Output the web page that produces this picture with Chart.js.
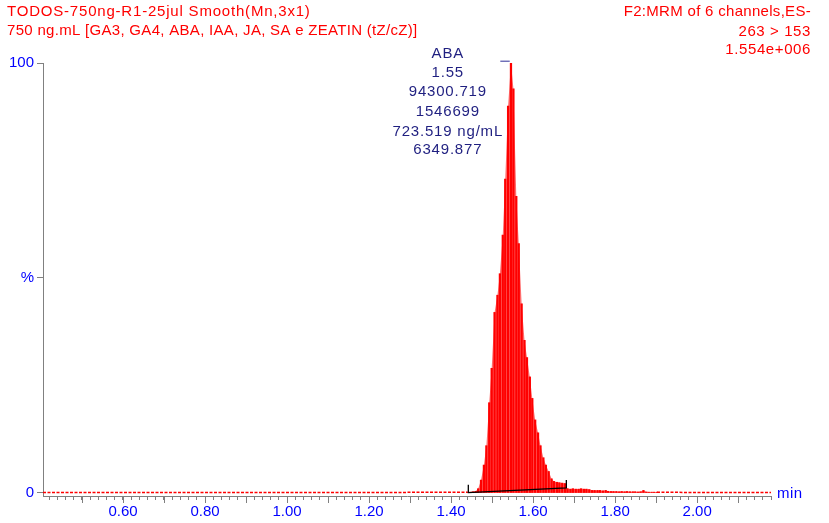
<!DOCTYPE html>
<html>
<head>
<meta charset="utf-8">
<script src="https://cdn.jsdelivr.net/npm/chart.js@4.4.1/dist/chart.umd.min.js"></script>
<style>
  body { margin: 0; background: #fff; }
  #wrap { width: 829px; height: 523px; position: relative; }
</style>
</head>
<body>
<div id="wrap"><canvas id="chromChart"></canvas></div>
<script>
// header / annotation text
const titleLines = ["TODOS-750ng-R1-25jul Smooth(Mn,3x1)", "750 ng.mL [GA3, GA4, ABA, IAA, JA, SA e ZEATIN (tZ/cZ)]"];
const channelLines = ["F2:MRM of 6 channels,ES-", "263 > 153", "1.554e+006"];
const peakLabel = ["ABA", "1.55", "94300.719", "1546699", "723.519 ng/mL", "6349.877"];
const peakLabelTime = 1.392;

const xTickLabels = ["0.60", "0.80", "1.00", "1.20", "1.40", "1.60", "1.80", "2.00"];
const yTickLabels = ["0", "%", "100"];
const yTickValues = [0, 50, 100];

// scans around the ABA peak (min, % of 1.554e+006)
const scanTimes = [
  1.440, 1.447, 1.453, 1.460, 1.466, 1.473, 1.480, 1.486, 1.493, 1.499,
  1.506, 1.513, 1.519, 1.526, 1.532, 1.539, 1.546, 1.552, 1.559, 1.565,
  1.572, 1.579, 1.585, 1.592, 1.598, 1.605, 1.612, 1.618, 1.625, 1.631,
  1.638, 1.645, 1.651, 1.658, 1.664, 1.671, 1.678, 1.684, 1.691, 1.697,
  1.704, 1.711, 1.717, 1.724, 1.730, 1.737, 1.744, 1.750, 1.757, 1.763,
  1.770, 1.777, 1.783, 1.790, 1.796, 1.803, 1.810, 1.816, 1.823, 1.829,
  1.836, 1.843, 1.849, 1.856, 1.862, 1.869, 1.876, 1.882, 1.889, 1.895, 1.902
];
const intensity = [
  0.2, 0.2, 0.3, 0.4, 1.0, 3.0, 6.5, 11, 21, 29,
  42, 46, 51, 60, 73, 90, 100, 94, 69, 58,
  44, 35.5, 31.5, 27, 22, 17, 14, 11, 8.2, 6.5,
  5.0, 3.3, 2.7, 2.5, 2.4, 2.3, 2.2, 1.0, 0.9, 1.0,
  0.9, 0.9, 1.0, 0.9, 0.9, 0.8, 0.6, 0.6, 0.6, 0.6,
  0.5, 0.6, 0.4, 0.35, 0.35, 0.35, 0.3, 0.35, 0.3, 0.35,
  0.3, 0.3, 0.3, 0.25, 0.3, 0.6, 0.25, 0.2, 0.2, 0.2, 0.2
];

// baseline noise outside the peak window
const baseTimesLeft = [0.405, 0.45, 0.50, 0.55, 0.60, 0.65, 0.70, 0.75, 0.80, 0.85, 0.90,
  0.95, 1.00, 1.05, 1.10, 1.15, 1.20, 1.25, 1.30, 1.35, 1.40, 1.44];
const baseLeft = [0.1, 0.1, 0.1, 0.1, 0.1, 0.1, 0.1, 0.1, 0.1, 0.1, 0.1,
  0.1, 0.1, 0.1, 0.1, 0.1, 0.1, 0.1, 0.15, 0.15, 0.15, 0.2];
const baseTimesRight = [1.902, 1.95, 2.00, 2.05, 2.10, 2.15, 2.18];
const baseRight = [0.2, 0.15, 0.1, 0.1, 0.1, 0.1, 0.1];

// integration baseline with start / end markers
const integTimes = [1.442, 1.442, 1.681, 1.681];
const integValues = [1.9, 0.1, 1.2, 3.0];

// apex marker above the peak
const apexTimes = [1.520, 1.543];
const apexValues = [100.4, 100.4];

const zip = (xs, ys) => xs.map((x, i) => ({ x: x, y: ys[i] }));

const axisGrey = '#808080';
const labelFont = { family: 'Liberation Sans, Arial, sans-serif', size: 15 };

function spaced(ctx, text, x, y, spacing) {
  ctx.letterSpacing = spacing + 'px';
  ctx.fillText(text, x, y);
}

const chromText = {
  id: 'chromText',
  afterDraw(chart) {
    const ctx = chart.ctx;
    const xs = chart.scales.x;
    const ys = chart.scales.y;
    ctx.save();

    // longer ticks every 0.1 min
    ctx.strokeStyle = axisGrey;
    ctx.lineWidth = 1;
    xs.ticks.forEach(t => {
      if (Math.abs(t.value * 10 - Math.round(t.value * 10)) < 1e-6) {
        const px = Math.round(xs.getPixelForValue(t.value)) + 0.5;
        ctx.beginPath();
        ctx.moveTo(px, xs.top);
        ctx.lineTo(px, xs.top + 7);
        ctx.stroke();
      }
    });

    ctx.font = '15px "Liberation Sans", Arial, sans-serif';
    ctx.textBaseline = 'alphabetic';

    ctx.fillStyle = '#ff0000';
    ctx.textAlign = 'left';
    spaced(ctx, titleLines[0], 7, 16, 0.8);
    spaced(ctx, titleLines[1], 7, 35, 0.3);
    ctx.textAlign = 'right';
    spaced(ctx, channelLines[0], 811, 16, 0.3);
    spaced(ctx, channelLines[1], 811, 35.5, 0.6);
    spaced(ctx, channelLines[2], 811, 54, 0.6);

    // peak annotation
    ctx.fillStyle = '#1f1f80';
    ctx.textAlign = 'center';
    const cx = xs.getPixelForValue(peakLabelTime);
    const top = ys.getPixelForValue(100);
    const offs = [-4.7, 14.3, 33, 52.7, 72.7, 91.3];
    peakLabel.forEach((s, i) => spaced(ctx, s, cx, top + offs[i], 0.8));

    // axis unit
    ctx.fillStyle = '#0000ff';
    ctx.textAlign = 'left';
    ctx.textBaseline = 'middle';
    spaced(ctx, 'min', xs.right + 6, ys.getPixelForValue(0) + 1, 0.5);
    ctx.restore();
  }
};

new Chart(document.getElementById('chromChart'), {
  type: 'line',
  data: {
    datasets: [
      {
        type: 'line', data: zip(integTimes, integValues),
        borderColor: '#000000', borderWidth: 1.3, pointRadius: 0, fill: false, order: 0
      },
      {
        type: 'line', data: zip(apexTimes, apexValues),
        borderColor: '#7070b8', borderWidth: 1.5, pointRadius: 0, fill: false, clip: false, order: 1
      },
      {
        type: 'bar', data: zip(scanTimes, intensity),
        backgroundColor: '#ff0000', borderWidth: 0, barThickness: 1.6, order: 2
      },
      {
        type: 'line', data: zip(scanTimes, intensity),
        borderWidth: 0, pointRadius: 0, fill: 'origin',
        backgroundColor: '#ff6e6e', tension: 0, order: 3
      },
      {
        type: 'line', data: zip(baseTimesLeft, baseLeft),
        borderColor: '#ff0000', borderWidth: 1.5, borderDash: [3, 1.5], pointRadius: 0, fill: false, order: 4
      },
      {
        type: 'line', data: zip(baseTimesRight, baseRight),
        borderColor: '#ff0000', borderWidth: 1.5, borderDash: [3, 1.5], pointRadius: 0, fill: false, order: 4
      }
    ]
  },
  options: {
    responsive: true,
    maintainAspectRatio: false,
    animation: false,
    layout: { padding: { top: 63, right: 58, left: 0, bottom: 0 } },
    plugins: { legend: { display: false }, tooltip: { enabled: false } },
    scales: {
      x: {
        type: 'linear',
        min: 0.405,
        max: 2.18,
        offset: false,
        grid: { display: true, offset: false, drawOnChartArea: false, drawTicks: true, tickLength: 4, color: axisGrey },
        border: { display: true, color: axisGrey, width: 1 },
        afterBuildTicks: scale => {
          const ticks = [];
          for (let i = 21; i <= 109; i++) ticks.push({ value: Math.round(i * 2) / 100 });
          scale.ticks = ticks;
        },
        afterFit: scale => { scale.height = 27; },
        ticks: {
          autoSkip: false, maxRotation: 0, minRotation: 0, padding: 3,
          color: '#0000ff', font: labelFont,
          callback: v => {
            const lab = xTickLabels.find(s => Math.abs(parseFloat(s) - v) < 1e-6);
            return lab || '';
          }
        }
      },
      y: {
        type: 'linear',
        min: -0.7,
        max: 100,
        grid: { display: true, drawOnChartArea: false, drawTicks: true, tickLength: 6, color: axisGrey },
        border: { display: true, color: axisGrey, width: 1 },
        afterBuildTicks: scale => { scale.ticks = yTickValues.map(v => ({ value: v })); },
        afterFit: scale => { scale.width = 43; },
        ticks: {
          padding: 3, color: '#0000ff', font: labelFont,
          callback: v => yTickLabels[yTickValues.indexOf(v)]
        }
      }
    }
  },
  plugins: [chromText]
});
</script>
</body>
</html>
